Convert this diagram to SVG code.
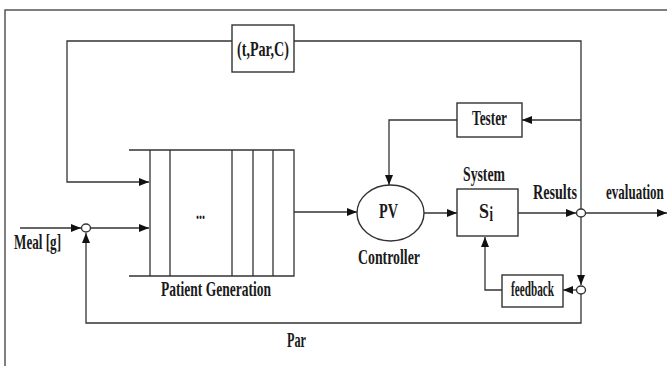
<svg xmlns="http://www.w3.org/2000/svg" width="667" height="367" viewBox="0 0 667 367">
<defs>
<marker id="ah" viewBox="0 0 10 8" refX="10" refY="4" markerWidth="10" markerHeight="8" markerUnits="userSpaceOnUse" orient="auto">
<path d="M0,0 L10,4 L0,8 Z" fill="#111"/>
</marker>
</defs>
<style>
.t{font-family:"Liberation Serif","Times New Roman",serif;font-weight:bold;font-size:21px;fill:#1a1a1a}
.ln{fill:none;stroke:#333;stroke-width:1.3}
.bx{fill:#fff;stroke:#333;stroke-width:1.4}
.fr{fill:none;stroke:#555;stroke-width:1.5}
</style>
<rect width="667" height="367" fill="#fff"/>
<path class="fr" d="M5,366 V10 H667"/>
<g id="connectors">
<path class="ln" d="M232,41 H67 V182 H149" marker-end="url(#ah)"/>
<path class="ln" d="M294,41 H581 V213"/>
<path class="ln" d="M581,213 V285" marker-end="url(#ah)"/>
<path class="ln" d="M581,294 V323 H86 V233" marker-end="url(#ah)"/>
<path class="ln" d="M20,228 H81" marker-end="url(#ah)"/>
<path class="ln" d="M90,228 H149" marker-end="url(#ah)"/>
<path class="ln" d="M294,212 H357" marker-end="url(#ah)"/>
<path class="ln" d="M581,120 H522" marker-end="url(#ah)"/>
<path class="ln" d="M457,120 H389 V185" marker-end="url(#ah)"/>
<path class="ln" d="M424,213 H457" marker-end="url(#ah)"/>
<path class="ln" d="M518,213 H576" marker-end="url(#ah)"/>
<path class="ln" d="M586,213 H667" marker-end="url(#ah)"/>
<path class="ln" d="M576,290 H563" marker-end="url(#ah)"/>
<path class="ln" d="M502,290 H485 V237" marker-end="url(#ah)"/>
</g>
<g id="tparc">
<rect class="bx" x="232" y="25" width="62" height="47"/>
<text class="t" x="237" y="56" textLength="52" lengthAdjust="spacingAndGlyphs">(t,Par,C)</text>
</g>
<g id="patient-generation">
<path class="ln" d="M129,150 H294 V276 H129 M150,150 V276 M170,150 V276 M232,150 V276 M253,150 V276 M273,150 V276"/>
<text class="t" x="196" y="219" font-size="16" textLength="9" lengthAdjust="spacingAndGlyphs">...</text>
<text class="t" x="161" y="296" textLength="110" lengthAdjust="spacingAndGlyphs">Patient Generation</text>
</g>
<g id="meal">
<text class="t" x="14" y="249" textLength="47" lengthAdjust="spacingAndGlyphs">Meal [g]</text>
</g>
<g id="sum1">
<ellipse class="bx" cx="86" cy="228" rx="4.5" ry="4"/>
</g>
<g id="controller">
<ellipse class="bx" cx="390.5" cy="213" rx="33.5" ry="28"/>
<text class="t" x="379" y="218" textLength="19" lengthAdjust="spacingAndGlyphs">PV</text>
<text class="t" x="358" y="264" textLength="62" lengthAdjust="spacingAndGlyphs">Controller</text>
</g>
<g id="tester">
<rect class="bx" x="457" y="103" width="65" height="34"/>
<text class="t" x="472" y="125" textLength="35" lengthAdjust="spacingAndGlyphs">Tester</text>
</g>
<g id="system">
<text class="t" x="463" y="181" font-size="20" textLength="42" lengthAdjust="spacingAndGlyphs">System</text>
<rect class="bx" x="457" y="189" width="61" height="47"/>
<text class="t" x="479" y="218" textLength="10" lengthAdjust="spacingAndGlyphs">S</text>
<text class="t" x="489.5" y="221" font-size="13" textLength="3.5" lengthAdjust="spacingAndGlyphs">i</text>
</g>
<g id="results">
<ellipse class="bx" cx="581" cy="213" rx="4.5" ry="4"/>
<text class="t" x="533" y="199" textLength="44" lengthAdjust="spacingAndGlyphs">Results</text>
<text class="t" transform="translate(606,199) scale(0.62,1)" x="0" y="0">evaluation</text>
</g>
<g id="sum2">
<ellipse class="bx" cx="581" cy="290" rx="4.5" ry="4"/>
</g>
<g id="feedback">
<rect class="bx" x="502" y="275" width="61" height="32"/>
<text class="t" x="511" y="296" font-size="17" textLength="43" lengthAdjust="spacingAndGlyphs">feedback</text>
</g>
<g id="par">
<text class="t" x="287" y="347" textLength="19" lengthAdjust="spacingAndGlyphs">Par</text>
</g>
</svg>
